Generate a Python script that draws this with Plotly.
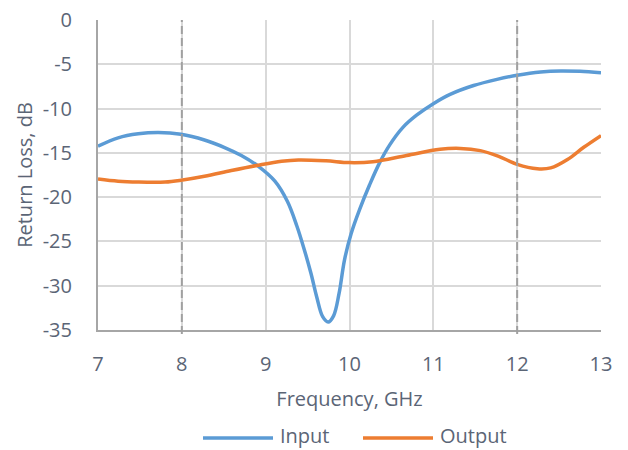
import plotly.graph_objects as go

# ---- data ----
freq_input = [7.0, 7.24, 7.48, 7.72, 7.99, 8.27, 8.51, 8.71, 8.91, 9.11, 9.26, 9.37, 9.46, 9.54,
              9.61, 9.68, 9.745, 9.81, 9.875, 9.94, 10.02, 10.12, 10.24, 10.36, 10.48, 10.64,
              10.8, 11.0, 11.2, 11.48, 11.76, 12.0, 12.28, 12.52, 12.75, 13.0]
rl_input = [-14.25, -13.3, -12.85, -12.7, -12.9, -13.55, -14.4, -15.3, -16.5, -18.2, -20.5,
            -23.2, -25.9, -28.6, -31.3, -33.5, -34.1, -33.4, -30.9, -27.1, -24.1, -21.4, -18.6,
            -16.1, -14.1, -12.1, -10.75, -9.45, -8.4, -7.4, -6.7, -6.23, -5.86, -5.75, -5.8,
            -5.97]

freq_output = [7.0, 7.24, 7.48, 7.8, 7.99, 8.27, 8.59, 8.91, 9.19, 9.39, 9.72, 10.0, 10.28,
               10.68, 11.08, 11.32, 11.56, 11.78, 12.0, 12.24, 12.4, 12.6, 12.79, 13.0]
rl_output = [-17.95, -18.2, -18.3, -18.3, -18.1, -17.65, -17.0, -16.4, -15.95, -15.8, -15.9,
             -16.1, -16.0, -15.3, -14.6, -14.5, -14.75, -15.4, -16.3, -16.8, -16.7, -15.75,
             -14.4, -13.05]

series_names = ["Input", "Output"]
x_ticks = [7, 8, 9, 10, 11, 12, 13]
y_ticks = [0, -5, -10, -15, -20, -25, -30, -35]
y_tick_text = ["0", "-5", "-10", "-15", "-20", "-25", "-30", "-35"]
marker_freqs = [8, 12]

BLUE = "#5B9BD5"
ORANGE = "#ED7D31"
TXT = "#5b6576"
GRID = "#d9d9d9"
AXIS = "#a6a6a6"
FONT = "Open Sans"

fig = go.Figure()
fig.add_trace(go.Scatter(x=freq_input, y=rl_input, mode="lines", name=series_names[0],
                         line=dict(color=BLUE, width=3.5, shape="spline", smoothing=1.0),
                         showlegend=False, hoverinfo="x+y"))
fig.add_trace(go.Scatter(x=freq_output, y=rl_output, mode="lines", name=series_names[1],
                         line=dict(color=ORANGE, width=3.5, shape="spline", smoothing=1.0),
                         showlegend=False, hoverinfo="x+y"))

shapes = []
for f in marker_freqs:
    shapes.append(dict(type="line", xref="x", yref="paper", x0=f, x1=f, y0=-0.013, y1=1,
                       line=dict(color="#a0a0a0", width=2, dash="8px,4px"), layer="above"))

# custom legend (line samples + labels)
PL, PW, PB, PH = 98, 503, 330, 310
def px2x(p):
    return (p - PL) / PW
def py2y(p):
    return (PB - p) / PH
leg_y = py2y(436)
legend_items = [(series_names[0], BLUE, 203, 273), (series_names[1], ORANGE, 363, 433)]
annotations = []
for name, col, a, b in legend_items:
    shapes.append(dict(type="line", xref="paper", yref="paper", x0=px2x(a), x1=px2x(b),
                       y0=py2y(438), y1=py2y(438), line=dict(color=col, width=3.5)))
    annotations.append(dict(xref="paper", yref="paper", x=px2x(b + 6), y=leg_y, text=name,
                            showarrow=False, xanchor="left", yanchor="middle", borderpad=0,
                            font=dict(family=FONT, size=20, color=TXT)))

fig.update_layout(
    width=628, height=450,
    margin=dict(l=98, r=27, t=20, b=120, autoexpand=False),
    paper_bgcolor="white", plot_bgcolor="white",
    font=dict(family=FONT, size=20, color=TXT),
    shapes=shapes, annotations=annotations,
    showlegend=False,
    xaxis=dict(range=[7, 13], tickvals=x_ticks, ticks="", showgrid=True, gridcolor=GRID,
               gridwidth=1.5, showline=True, linecolor=AXIS, linewidth=2, zeroline=False,
               ticklabelstandoff=15, automargin=False,
               title=dict(text="Frequency, GHz", standoff=16, font=dict(size=20, color=TXT))),
    yaxis=dict(range=[-35, 0], tickvals=y_ticks, ticktext=y_tick_text, ticks="",
               showgrid=True, gridcolor=GRID, gridwidth=1.5, showline=True, linecolor=AXIS,
               linewidth=2, zeroline=False, ticklabelstandoff=20, automargin=False,
               title=dict(text="Return Loss, dB", standoff=5, font=dict(size=20, color=TXT))),
)

fig.write_html("out.html", config={"displayModeBar": False},
               post_script="document.body.style.margin='0px';")
